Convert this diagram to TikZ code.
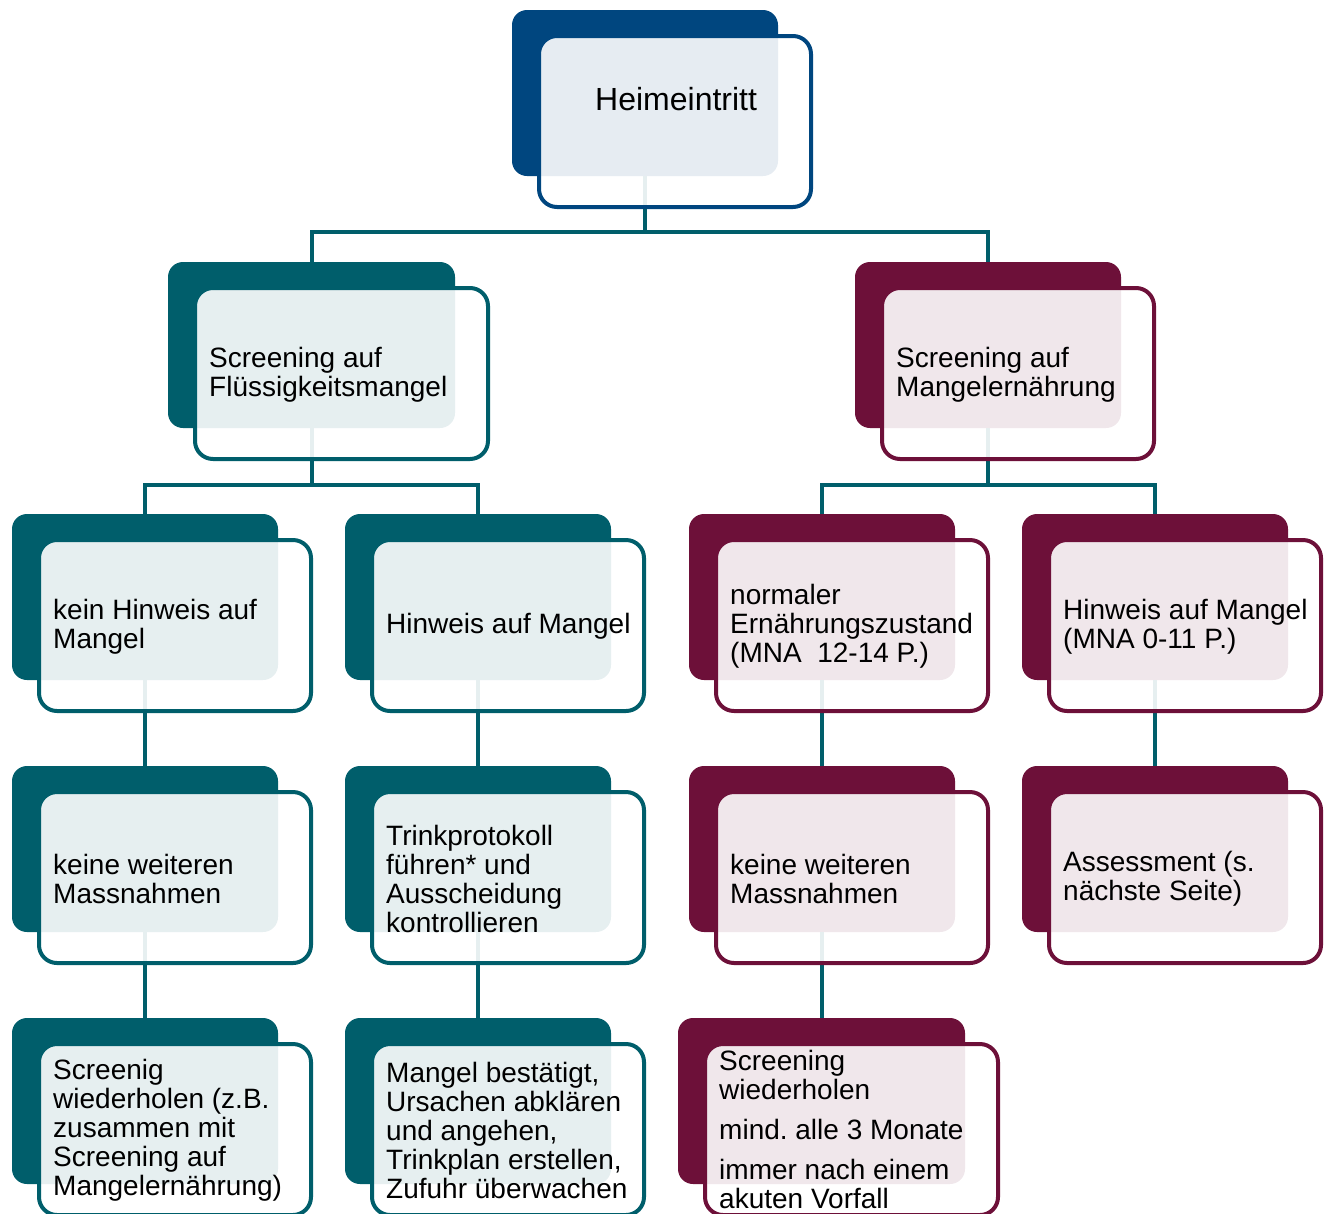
\documentclass[tikz,border=0pt]{standalone}
\usepackage{fontspec}
\setmainfont{Liberation Sans}
\usepackage{tikz}
\frenchspacing

\definecolor{heimblue}{HTML}{00467F}
\definecolor{flutal}{HTML}{005E6B}
\definecolor{ernrot}{HTML}{6D1039}

\tikzset{
  backbox/.style={anchor=north west, inner sep=0pt, outer sep=0pt, rounded corners=15pt,
    minimum width=266pt, minimum height=166pt},
  backwide/.style={backbox, minimum width=287pt},
  frontbox/.style={anchor=north west, inner sep=0pt, draw, line width=4pt, fill=white,
    fill opacity=0.9, rounded corners=18pt, minimum width=272pt, minimum height=171pt},
  frontwide/.style={frontbox, minimum width=293pt},
  boxtext/.style={anchor=west, align=left, inner sep=0pt, font=\fontsize{28}{29}\selectfont},
  conn/.style={draw=flutal, line width=4pt}
}

\begin{document}
\begin{tikzpicture}[x=1pt,y=-1pt]
\useasboundingbox (0,0) rectangle (1329,1213);

\node[backbox, fill=heimblue] (heimB) at (512,10) {};
\node[backwide, fill=flutal] (fluessigB) at (168,262) {};
\node[backbox, fill=ernrot] (ernaehrB) at (855,262) {};

\node[backbox, fill=flutal] (keinhwB) at (12,514) {};
\node[backbox, fill=flutal] (hwmangelB) at (345,514) {};
\node[backbox, fill=ernrot] (normalB) at (689,514) {};
\node[backbox, fill=ernrot] (hwmnaB) at (1022,514) {};

\node[backbox, fill=flutal] (keineaB) at (12,766) {};
\node[backbox, fill=flutal] (trinkB) at (345,766) {};
\node[backbox, fill=ernrot] (keinebB) at (689,766) {};
\node[backbox, fill=ernrot] (assessB) at (1022,766) {};

\node[backbox, fill=flutal] (wiederaB) at (12,1018) {};
\node[backbox, fill=flutal] (bestaetB) at (345,1018) {};
\node[backwide, fill=ernrot] (wiederbB) at (678,1018) {};

\draw[conn] (heimB.south) -- ++(0,56) coordinate (j0);
\draw[conn] (fluessigB.north) |- (j0) -| (ernaehrB.north);
\draw[conn] (fluessigB.south) -- ++(0,57) coordinate (j1);
\draw[conn] (keinhwB.north) |- (j1) -| (hwmangelB.north);
\draw[conn] (ernaehrB.south) -- ++(0,57) coordinate (j2);
\draw[conn] (normalB.north) |- (j2) -| (hwmnaB.north);
\draw[conn] (keinhwB.south) -- (keineaB.north);
\draw[conn] (hwmangelB.south) -- (trinkB.north);
\draw[conn] (normalB.south) -- (keinebB.north);
\draw[conn] (hwmnaB.south) -- (assessB.north);
\draw[conn] (keineaB.south) -- (wiederaB.north);
\draw[conn] (trinkB.south) -- (bestaetB.north);
\draw[conn] (keinebB.south) -- (keinebB.south |- wiederbB.north);

\node[frontbox, draw=heimblue] (heimF) at (537,34) {};
\node[frontwide, draw=flutal] (fluessigF) at (193,286) {};
\node[frontbox, draw=ernrot] (ernaehrF) at (880,286) {};

\node[frontbox, draw=flutal] (keinhwF) at (37,538) {};
\node[frontbox, draw=flutal] (hwmangelF) at (370,538) {};
\node[frontbox, draw=ernrot] (normalF) at (714,538) {};
\node[frontbox, draw=ernrot] (hwmnaF) at (1047,538) {};

\node[frontbox, draw=flutal] (keineaF) at (37,790) {};
\node[frontbox, draw=flutal] (trinkF) at (370,790) {};
\node[frontbox, draw=ernrot] (keinebF) at (714,790) {};
\node[frontbox, draw=ernrot] (assessF) at (1047,790) {};

\node[frontbox, draw=flutal] (wiederaF) at (37,1042) {};
\node[frontbox, draw=flutal] (bestaetF) at (370,1042) {};
\node[frontwide, draw=ernrot] (wiederbF) at (703,1042) {};

\node[boxtext, anchor=base west, font=\fontsize{32}{33}\selectfont] (heimT) at (595,110) {Heimeintritt};
\node[boxtext] (fluessigT) at ([xshift=16pt,yshift=-1pt]fluessigF.west) {Screening auf\\Flüssigkeitsmangel};
\node[boxtext] (ernaehrT) at ([xshift=16pt,yshift=-1pt]ernaehrF.west) {Screening auf\\Mangelernährung};

\node[boxtext] (keinhwT) at ([xshift=16pt,yshift=-1pt]keinhwF.west) {kein Hinweis auf\\Mangel};
\node[boxtext] (hwmangelT) at ([xshift=16pt,yshift=-1pt]hwmangelF.west) {Hinweis auf Mangel};
\node[boxtext] (normalT) at ([xshift=16pt,yshift=-1pt]normalF.west) {normaler\\Ernährungszustand\\(MNA\ \ 12-14 P.)};
\node[boxtext] (hwmnaT) at ([xshift=16pt,yshift=-1pt]hwmnaF.west) {Hinweis auf Mangel\\(MNA 0-11 P.)};

\node[boxtext] (keineaT) at ([xshift=16pt,yshift=-1pt]keineaF.west) {keine weiteren\\Massnahmen};
\node[boxtext] (trinkT) at ([xshift=16pt,yshift=-1pt]trinkF.west) {Trinkprotokoll\\führen* und\\Ausscheidung\\kontrollieren};
\node[boxtext] (keinebT) at ([xshift=16pt,yshift=-1pt]keinebF.west) {keine weiteren\\Massnahmen};
\node[boxtext] (assessT) at ([xshift=16pt,yshift=-1pt]assessF.west) {Assessment (s.\\nächste Seite)};

\node[boxtext] (wiederaT) at ([xshift=16pt,yshift=-1pt]wiederaF.west) {Screenig\\wiederholen (z.B.\\zusammen mit\\Screening auf\\Mangelernährung)};
\node[boxtext] (bestaetT) at ([xshift=16pt,yshift=-1pt]bestaetF.west) {Mangel bestätigt,\\Ursachen abklären\\und angehen,\\Trinkplan erstellen,\\Zufuhr überwachen};
\node[boxtext] (wiederbT) at ([xshift=16pt]wiederbF.west) {Screening\\wiederholen\\[11pt]mind. alle 3 Monate\\[11pt]immer nach einem\\akuten Vorfall};
\end{tikzpicture}
\end{document}
